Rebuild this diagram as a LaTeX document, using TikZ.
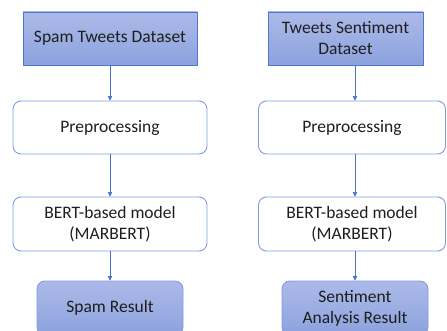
\documentclass[tikz,border=0pt]{standalone}
\usepackage{fontspec}
\setmainfont{Carlito}
\usetikzlibrary{arrows.meta}
\definecolor{fillA}{RGB}{172,186,232}
\definecolor{fillB}{RGB}{140,162,222}
\definecolor{edgeA}{RGB}{80,118,205}
\definecolor{edgeB}{RGB}{125,158,225}
\definecolor{arrc}{RGB}{70,114,200}
\definecolor{txt}{RGB}{30,30,30}
\tikzset{
  every node/.style={font=\fontsize{17.5}{21}\selectfont, text=txt, align=center, inner sep=0pt},
  dsbox/.style={draw=edgeA, line width=0.9pt, top color=fillA, bottom color=fillB},
  wbox/.style={draw=edgeB, line width=0.9pt, fill=white, rounded corners=8pt},
  resbox/.style={draw=edgeB, line width=0.9pt, top color=fillA, bottom color=fillB, rounded corners=8pt},
  arr/.style={draw=arrc, line width=0.7pt, -{Triangle[length=4.5pt,width=4.5pt]}}
}
\begin{document}
\begin{tikzpicture}[x=1pt,y=-1pt]
\useasboundingbox (0,0) rectangle (447,331);
% left column
\node[dsbox, minimum width=174pt, minimum height=53pt] (t1) at (110,38.5) {Spam Tweets Dataset};
\node[wbox, minimum width=194pt, minimum height=53pt] (p1) at (110,127.5) {Preprocessing};
\node[wbox, minimum width=194pt, minimum height=54pt] (b1) at (110,224) {BERT-based model\\(MARBERT)};
\node[resbox, minimum width=146pt, minimum height=54pt] (r1) at (110,308) {Spam Result};
% right column
\node[dsbox, minimum width=155pt, minimum height=53pt] (t2) at (345.5,38.5) {Tweets Sentiment\\Dataset};
\node[wbox, minimum width=187pt, minimum height=53pt] (p2) at (352,127.5) {Preprocessing};
\node[wbox, minimum width=187pt, minimum height=54pt] (b2) at (352,224) {BERT-based model\\(MARBERT)};
\node[resbox, minimum width=146pt, minimum height=54pt] (r2) at (355,308) {Sentiment\\Analysis Result};
\coordinate (ax) at (355,0);
% arrows
\draw[arr] (t1.south) -- (p1.north);
\draw[arr] (p1.south) -- (b1.north);
\draw[arr] (b1.south) -- (r1.north);
\draw[arr] (t2.south -| ax) -- (p2.north -| ax);
\draw[arr] (p2.south -| ax) -- (b2.north -| ax);
\draw[arr] (b2.south -| ax) -- (r2.north);
\end{tikzpicture}
\end{document}
